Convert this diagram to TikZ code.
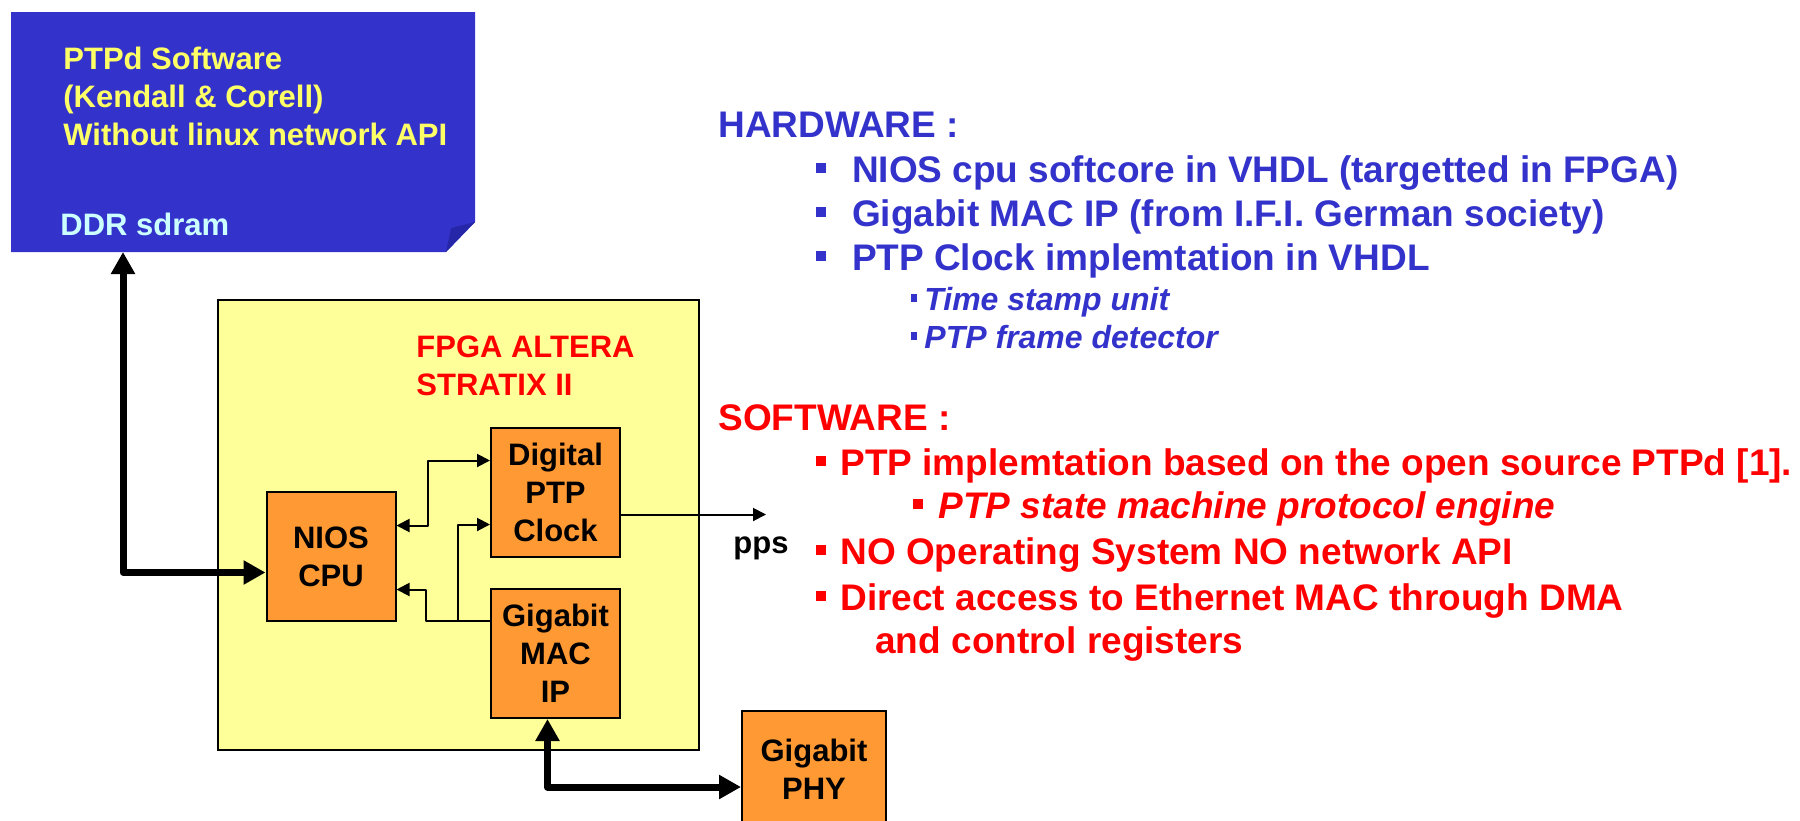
\documentclass[tikz,border=0pt]{standalone}
\usepackage{fontspec}
\setmainfont{Liberation Sans}
\usetikzlibrary{calc,arrows.meta,positioning}
\definecolor{membleu}{RGB}{51,51,204}
\definecolor{memfold}{RGB}{38,38,168}
\definecolor{memyellow}{RGB}{255,255,102}
\definecolor{memcyan}{RGB}{204,255,255}
\definecolor{fpgayellow}{RGB}{255,255,153}
\definecolor{blockorange}{RGB}{255,153,51}
\definecolor{swred}{RGB}{255,0,0}
\newcommand{\sqbul}{\rule[4.3pt]{5pt}{5.2pt}}
\newcommand{\subbul}{\rule[3.8pt]{3pt}{4pt}}
\tikzset{
    % Orange functional block
    block/.style={
        draw=black, fill=blockorange, line width=1pt,
        minimum width=64.5pt, minimum height=64.5pt, inner sep=0pt,
        align=center, font=\fontsize{15.5}{19}\selectfont\bfseries
    },
    % FPGA area (yellow)
    fpgabox/.style={draw=black, fill=fpgayellow, line width=1pt,
        minimum width=240.5pt, minimum height=225pt, inner sep=0pt},
    % Text inside the memory box
    memtext/.style={anchor=base west, inner sep=0pt, text=memyellow,
        font=\fontsize{15.5}{19}\selectfont\bfseries},
    fpgatext/.style={anchor=base west, inner sep=0pt, text=swred,
        font=\fontsize{15.5}{19}\selectfont\bfseries},
    % Text list on the right
    hwtext/.style={anchor=base west, inner sep=0pt, text=membleu,
        font=\fontsize{18.5}{22}\selectfont\bfseries},
    hwsubtext/.style={hwtext, font=\fontsize{16}{19}\selectfont\bfseries\itshape},
    swtext/.style={hwtext, text=swred},
    swsubtext/.style={swtext, font=\fontsize{18.5}{22}\selectfont\bfseries\itshape},
    % Connectors
    thinlink/.style={line width=1pt, line join=round,
        arrows={-Triangle[length=6.5pt,width=6.5pt]}},
    buslink/.style={line width=3.5pt, line join=round,
        arrows={Triangle[length=11pt,width=11.5pt]-Triangle[length=11pt,width=11.5pt]}},
}
\begin{document}
\begin{tikzpicture}[x=0.5pt,y=-0.5pt]
  \clip (0,0) rectangle (1800,820);
  % memory (folded sheet)
  \fill[membleu] (11,12) -- (475,12) -- (475,222) -- (446,252) -- (11,252) -- cycle;
  \fill[memfold] (446,252) -- (451,228) -- (475,222) -- cycle;
  \coordinate (ddr) at (123,252);
  \node[memtext] (sw1) at (63,69)  {PTPd Software};
  \node[memtext] (sw2) at (63,107) {(Kendall \& Corell)};
  \node[memtext] (sw3) at (63,145) {Without linux network API};
  \node[memtext, text=memcyan] (ddrlabel) at (60,235) {DDR sdram};

  % FPGA and its blocks
  \node[fpgabox] (fpga) at (458.5,525) {};
  \node[fpgatext] (fpga1) at (416,357) {FPGA ALTERA};
  \node[fpgatext] (fpga2) at (416,395) {STRATIX II};
  \node[block] (nios)  at (331,556.5) {NIOS\\CPU};
  \node[block] (clock) at (555.5,492.5) {Digital\\PTP\\Clock};
  \node[block] (mac)   at (555.5,653.5) {Gigabit\\MAC\\IP};
  \node[block, minimum width=72pt, minimum height=58pt] (phy) at (814,769) {Gigabit\\PHY};

  % links
  \draw[buslink] (ddr) |- ($(nios.west)+(0,16)$);
  \draw[buslink] ($(mac.south)+(-8,0)$) |- ($(phy.west)+(0,18)$);
  \draw[thinlink, {Triangle[length=6.5pt,width=6.5pt]}-{Triangle[length=6.5pt,width=6.5pt]}]
    ($(nios.east)+(0,-31)$) -- ++(31,0) |- ($(clock.west)+(0,-32)$);
  \draw[thinlink] ($(mac.west)+(0,-33)$) -- ++(-64,0) |- ($(nios.east)+(0,33)$);
  \draw[thinlink] ($(mac.west)+(-32,-33)$) |- ($(clock.west)+(0,32)$);
  \draw[thinlink] ($(clock.east)+(0,22)$) -- ++(145,0) coordinate (ppsend);
  \node[anchor=base, inner sep=0pt, font=\fontsize{15.5}{19}\selectfont\bfseries]
    (ppslabel) at ($(ppsend)+(-5,39)$) {pps};

  % hardware list
  \node[hwtext] (hwtitle) at (718,137) {HARDWARE :};
  \node[hwtext] (hw1) at (816,182) {\sqbul\hspace{12.8pt}NIOS cpu softcore in VHDL (targetted in FPGA)};
  \node[hwtext] (hw2) at (816,226) {\sqbul\hspace{12.8pt}Gigabit MAC IP (from I.F.I. German society)};
  \node[hwtext] (hw3) at (816,270) {\sqbul\hspace{12.8pt}PTP Clock implemtation in VHDL};
  \node[hwsubtext] (hw3a) at (911,310) {\subbul\hspace{3.5pt}Time stamp unit};
  \node[hwsubtext] (hw3b) at (911,348) {\subbul\hspace{3.5pt}PTP frame detector};

  % software list
  \node[swtext] (swtitle) at (718,430) {SOFTWARE :};
  \node[swtext] (sw4) at (816,475) {\sqbul\hspace{7pt}PTP implemtation based on the open source PTPd [1].};
  \node[swsubtext] (sw4a) at (913,518) {\sqbul\hspace{7.5pt}PTP state machine protocol engine};
  \node[swtext] (sw5) at (816,564) {\sqbul\hspace{7pt}NO Operating System NO network API};
  \node[swtext] (sw6) at (816,610) {\sqbul\hspace{7pt}Direct access to Ethernet MAC through DMA};
  \node[swtext] (sw6b) at (875,653) {and control registers};
\end{tikzpicture}
\end{document}
